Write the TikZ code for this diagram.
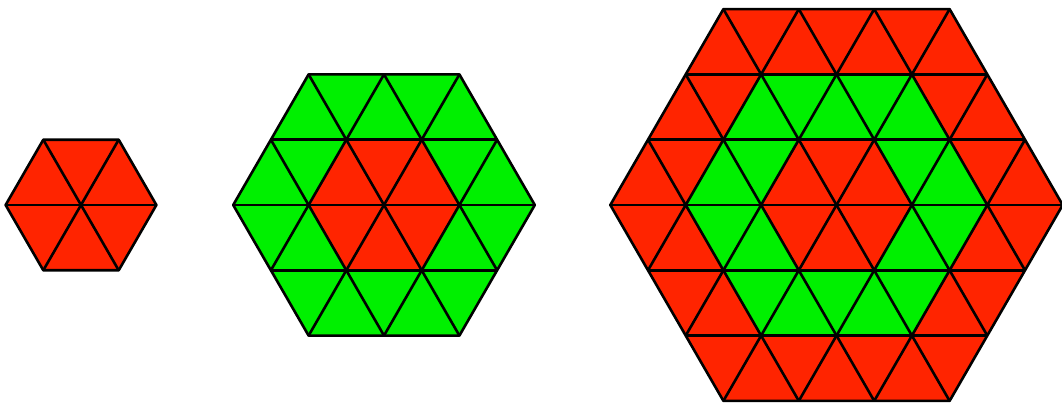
\documentclass[tikz,border=0pt]{standalone}
\definecolor{hred}{RGB}{255,36,0}
\definecolor{hgreen}{RGB}{0,240,0}
\tikzset{gridline/.style={line width=2.6pt, line cap=round, line join=round, draw=black}}
\newcommand\hexfig[4]{%
\begin{scope}[shift={(#1,#2)}]
  \foreach \k in {#3,...,1} {
    \pgfmathsetmacro\r{\k*#4}
    \pgfmathtruncatemacro\odd{mod(\k,2)}
    \ifnum\odd=1 \def\col{hred}\else\def\col{hgreen}\fi
    \fill[\col] (0:\r) -- (60:\r) -- (120:\r) -- (180:\r) -- (240:\r) -- (300:\r) -- cycle;
  }
  \pgfmathsetmacro\R{#3*#4}
  \pgfmathsetmacro\h{#4*0.8660254}
  \pgfmathtruncatemacro\m{#3-1}
  \pgfmathtruncatemacro\mm{1-#3}
  \begin{scope}
    \clip (0:\R) -- (60:\R) -- (120:\R) -- (180:\R) -- (240:\R) -- (300:\R) -- cycle;
    \foreach \j in {\mm,...,\m} {
      \draw[gridline] (-\R-10,\j*\h) -- (\R+10,\j*\h);
      \draw[gridline] (\j*#4,0) ++(60:2*\R) -- ++(240:4*\R);
      \draw[gridline] (\j*#4,0) ++(120:2*\R) -- ++(300:4*\R);
    }
  \end{scope}
  \draw[gridline] (0:\R) -- (60:\R) -- (120:\R) -- (180:\R) -- (240:\R) -- (300:\R) -- cycle;
\end{scope}}
\begin{document}
\begin{tikzpicture}[x=1pt,y=-1pt]
\useasboundingbox (0,0) rectangle (1062,406);
\hexfig{81}{205}{1}{75.4}
\hexfig{384}{205}{2}{75.4}
\hexfig{836.5}{205}{3}{75.4}
\end{tikzpicture}
\end{document}
